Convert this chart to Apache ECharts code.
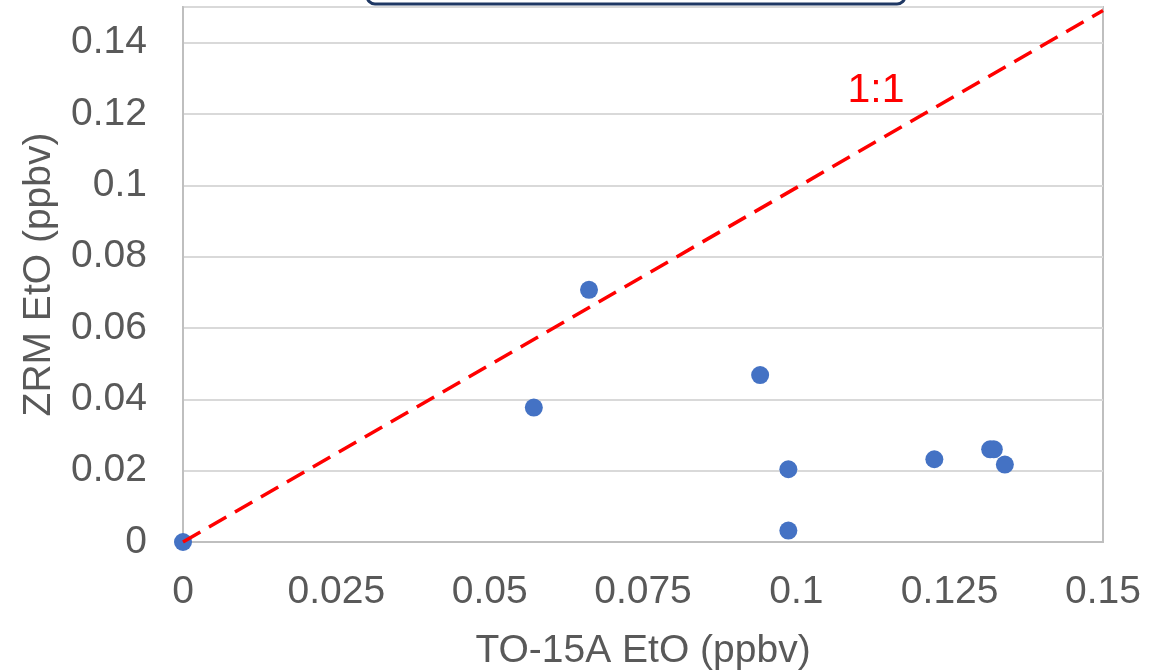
<!DOCTYPE html>
<html>
<head>
<meta charset="utf-8">
<script src="https://cdn.jsdelivr.net/npm/echarts@6/dist/echarts.min.js"></script>
<style>
html,body{margin:0;padding:0;background:#fff;}
#chart{width:1166px;height:670px;}
</style>
</head>
<body>
<div id="chart"></div>
<script>
// TO-15A EtO (ppbv) vs ZRM EtO (ppbv)
var to15aValues = [0, 0.0572, 0.0662, 0.0941, 0.0987, 0.0987, 0.1225, 0.1316, 0.1322, 0.1340];
var zrmValues   = [0, 0.0377, 0.0707, 0.0468, 0.0204, 0.0032, 0.0232, 0.0260, 0.0260, 0.0217];
var oneToOneX = [0, 0.15];
var oneToOneY = [0, 0.149];
var xAxisTitle = 'TO-15A EtO (ppbv)';
var yAxisTitle = 'ZRM EtO (ppbv)';
var lineLabel = '1:1';

var points = to15aValues.map(function (x, i) { return [x, zrmValues[i]]; });
var linePts = oneToOneX.map(function (x, i) { return [x, oneToOneY[i]]; });

var font = '"Liberation Sans", Arial, sans-serif';
var textColor = '#595959';

var chart = echarts.init(document.getElementById('chart'), null, {renderer: 'canvas'});
chart.setOption({
  animation: false,
  backgroundColor: '#ffffff',
  grid: {
    left: 183, right: 63, top: 7, bottom: 128,
    containLabel: false, outerBoundsMode: 'none',
    show: true, borderColor: '#bfbfbf', borderWidth: 2, backgroundColor: 'transparent'
  },
  xAxis: {
    type: 'value', min: 0, max: 0.15, interval: 0.025,
    name: xAxisTitle, nameLocation: 'middle', nameGap: 90,
    nameTextStyle: {fontFamily: font, fontSize: 39, color: textColor},
    axisLine: {show: true, lineStyle: {color: '#bfbfbf', width: 2}},
    axisTick: {show: false},
    splitLine: {show: false},
    axisLabel: {fontFamily: font, fontSize: 39, color: textColor, margin: 31}
  },
  yAxis: {
    type: 'value', min: 0, max: 0.15, interval: 0.02,
    name: yAxisTitle, nameLocation: 'middle', nameGap: 124,
    nameTextStyle: {fontFamily: font, fontSize: 39, color: textColor},
    axisLine: {show: true, lineStyle: {color: '#bfbfbf', width: 2}},
    axisTick: {show: false},
    splitLine: {show: true, lineStyle: {color: '#d9d9d9', width: 2}},
    axisLabel: {fontFamily: font, fontSize: 39, color: textColor, margin: 36, showMaxLabel: false}
  },
  series: [
    {
      type: 'scatter', data: points, symbol: 'circle', symbolSize: 18,
      itemStyle: {color: '#4472c4', opacity: 1}, z: 2
    },
    {
      type: 'line', data: linePts, symbol: 'none',
      lineStyle: {color: '#ff0000', width: 3.5, type: [20, 10]}, z: 3
    }
  ],
  graphic: [
    {
      type: 'rect', shape: {x: 367, y: -30, width: 538, height: 34, r: 8},
      style: {fill: '#ffffff', stroke: '#1f3864', lineWidth: 3}
    },
    {
      type: 'text', x: 876, y: 91,
      style: {text: lineLabel, font: '41px ' + font, fill: '#ff0000', align: 'center', verticalAlign: 'middle'}
    }
  ]
});
</script>
</body>
</html>
